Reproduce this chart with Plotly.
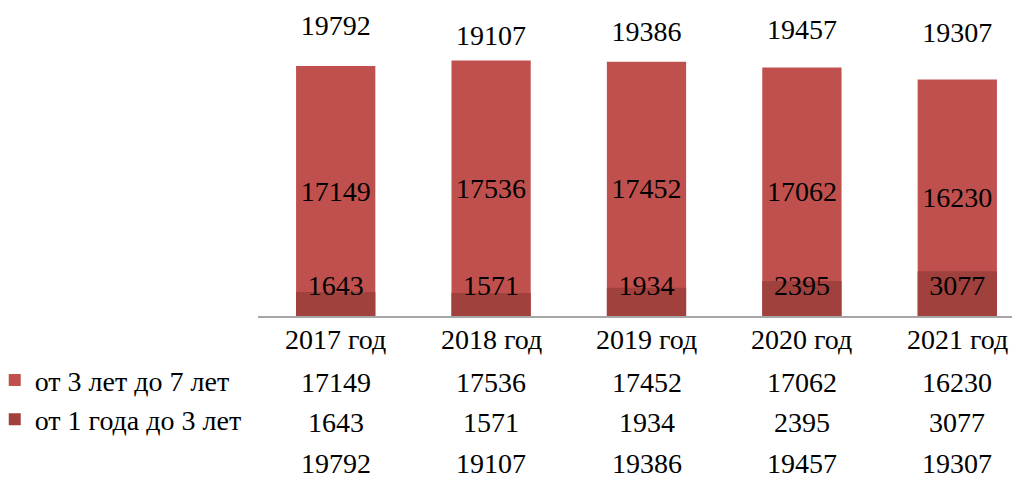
import plotly.graph_objects as go

categories = ["2017 год", "2018 год", "2019 год", "2020 год", "2021 год"]
series_3_7 = [17149, 17536, 17452, 17062, 16230]
series_1_3 = [1643, 1571, 1934, 2395, 3077]
totals = [19792, 19107, 19386, 19457, 19307]
name_3_7 = "от 3 лет до 7 лет"
name_1_3 = "от 1 года до 3 лет"

W, H = 1020, 477
OFF = 8  # page body margin in the browser
FONT = "Liberation Serif, Times New Roman, Tinos, DejaVu Serif, serif"
FS = 28
LIGHT = "#C0504D"
DARK = "#A0413E"
DARK_LABEL_Y = 1920


def py(screen_y):
    return 1 - (screen_y - OFF) / H


fig = go.Figure()
fig.add_trace(go.Bar(
    x=categories, y=series_3_7, name=name_3_7, marker_color=LIGHT,
    marker_line_width=0, width=0.51,
    text=[str(v) for v in series_3_7], textposition="inside",
    insidetextanchor="middle", textfont=dict(family=FONT, size=FS, color="black"),
    constraintext="none",
))
fig.add_trace(go.Bar(
    x=categories, y=series_1_3, name=name_1_3, marker_color=DARK,
    marker_line_width=0, width=0.51, textposition="none",
))
fig.add_trace(go.Scatter(
    x=categories, y=[DARK_LABEL_Y] * len(categories), mode="text",
    text=[str(v) for v in series_1_3], textposition="middle center",
    textfont=dict(family=FONT, size=FS, color="black"), showlegend=False,
    hoverinfo="skip", cliponaxis=False,
))
fig.add_trace(go.Scatter(
    x=categories, y=totals, mode="text",
    text=[str(v) for v in totals], textposition="middle center",
    textfont=dict(family=FONT, size=FS, color="black"), showlegend=False,
    cliponaxis=False,
))

# data table rows
rows = [(categories, py(339)), ([str(v) for v in series_3_7], py(382)),
        ([str(v) for v in series_1_3], py(422)), ([str(v) for v in totals], py(463))]
annotations = []
for texts, yp in rows:
    for c, t in zip(categories, texts):
        annotations.append(dict(x=c, y=yp, xref="x", yref="paper", text=t,
                                showarrow=False, xanchor="center", yanchor="middle",
                                font=dict(family=FONT, size=FS, color="black")))

fig.update_layout(
    width=W, height=H, margin=dict(l=0, r=0, t=0, b=0, autoexpand=False),
    paper_bgcolor="white", plot_bgcolor="white",
    barmode="overlay", bargap=0.49,
    font=dict(family=FONT, size=FS, color="black"),
    annotations=annotations,
    legend=dict(x=-0.013, y=0.272, xanchor="left", yanchor="top",
                font=dict(family=FONT, size=FS, color="black"),
                bgcolor="rgba(0,0,0,0)", tracegroupgap=0, itemwidth=30),
    showlegend=True,
)
fig.update_xaxes(domain=[(258 - OFF) / W, 1.0], range=[-0.5, 4.455], showticklabels=False,
                 showline=True, linecolor="#A6A6A6", linewidth=2, ticks="",
                 showgrid=False, zeroline=False, fixedrange=True)
fig.update_yaxes(domain=[py(316), py(10)], range=[0, 21000],
                 showticklabels=False, showgrid=False, zeroline=False,
                 showline=False, fixedrange=True)

fig.write_html("out.html")
